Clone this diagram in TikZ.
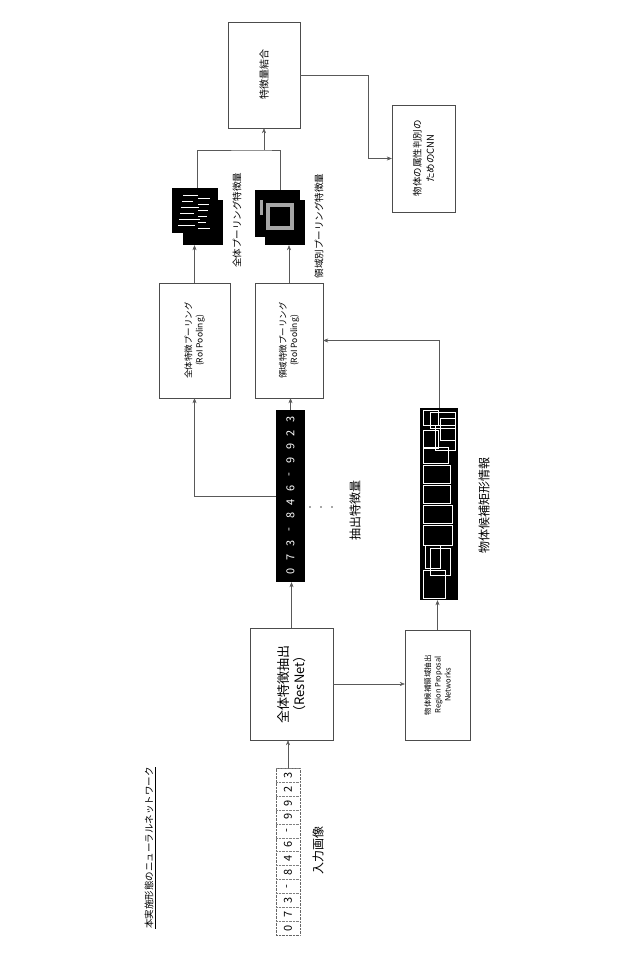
\documentclass[tikz,border=0pt]{standalone}
\usepackage{fontspec}
\setmainfont{Noto Sans CJK JP}
\usetikzlibrary{arrows.meta}
\begin{document}
\begin{tikzpicture}[x=1pt,y=-1pt,font=\fontsize{8.5}{11}\selectfont,
  box/.style={draw=black!70,thin,inner sep=0pt},
  arr/.style={draw=black!65,thin,-{Stealth[length=5pt,width=4pt]}},
  line/.style={draw=black!65,thin},
  vtext/.style={rotate=90,align=center}]
\useasboundingbox (0,0) rectangle (640,960);
% boxes
\node[box,minimum width=83,minimum height=112] (resnet) at (291.5,684) {};
\node[vtext,font=\fontsize{13}{16}\selectfont] at (resnet) {全体特徴抽出\\（ResNet）};
\node[box,minimum width=65,minimum height=110] (rpn) at (437.5,685) {};
\node[vtext,font=\fontsize{7.5}{10}\selectfont] at (rpn) {物体候補領域抽出\\Region Proposal\\Networks};
\node[box,minimum width=71,minimum height=115] (poolall) at (194.5,340.5) {};
\node[vtext] at (poolall) {全体特徴プーリング\\(RoI Pooling)};
\node[box,minimum width=68,minimum height=115] (poolreg) at (289,340.5) {};
\node[vtext] at (poolreg) {領域特徴プーリング\\(RoI Pooling)};
\node[box,minimum width=72,minimum height=106] (comb) at (264,75) {};
\node[vtext,font=\fontsize{10}{12}\selectfont] at (comb) {特徴量結合};
\node[box,minimum width=63,minimum height=107] (cnn) at (423.5,158.5) {};
\node[vtext,font=\fontsize{9.5}{13}\selectfont] at (cnn) {物体の属性判別の\\ためのCNN};
% input image
\node[draw=black!60,densely dotted,minimum width=24,minimum height=167,inner sep=0pt] (input) at (288,851.5) {};
\foreach \c [count=\i] in {0,7,3,-,8,4,6,-,9,9,2,3} {
  \node[rotate=90,font=\fontsize{11}{11}\selectfont] at (288,{935-13.9*(\i-0.5)}) {\c};
  \draw[black!50,densely dotted] (276,{935-13.9*\i}) -- (300,{935-13.9*\i});
}
\node[vtext,font=\fontsize{12}{14}\selectfont] (inlabel) at (318,850) {入力画像};
% extracted features
\node[fill=black,minimum width=29,minimum height=172,inner sep=0pt] (feat) at (290.5,496) {};
\foreach \c [count=\i] in {0,7,3,-,8,4,6,-,9,9,2,3}
  \node[rotate=90,text=white,font=\fontsize{11}{11}\selectfont] at (290.5,{578-13.8*(\i-0.5)}) {\c};
\foreach \x in {310,321,332} \fill[black!70] (\x,507) circle (0.8);
\node[vtext,font=\fontsize{12}{14}\selectfont] (featlabel) at (355,510) {抽出特徴量};
% candidate rectangles
\node[fill=black,minimum width=38,minimum height=192,inner sep=0pt] (cand) at (439,504) {};
\foreach \xa/\ya/\xb/\yb in {423/570/445/598,425/545/440/568,430/548/450/575,423/525/452/545,
  423/505/452/523,423/485/450/503,423/465/450/483,423/447/448/463,435/425/455/450,
  423/430/438/448,430/412/455/428,440/418/455/440,423/410/438/425}
  \draw[white,thin] (\xa,\ya) rectangle (\xb,\yb);
\node[vtext,font=\fontsize{12}{14}\selectfont] (candlabel) at (484,505) {物体候補矩形情報};
% pooled feature maps
\node[minimum width=51,minimum height=57,inner sep=0pt] (mapall) at (197.5,216.5) {};
\fill[black] (183,200) rectangle (223,245);
\fill[black] (172,188) rectangle (218,233);
\foreach \y in {195,201,...,229}
  \draw[white,thin] ({177+mod(\y,7)},\y) -- ({190+mod(\y,11)},\y) (198,{\y+3}) -- ({210-mod(\y,5)},{\y+3});
\node[minimum width=50,minimum height=55,inner sep=0pt] (mapreg) at (280,217.5) {};
\fill[black] (265,200) rectangle (305,245);
\fill[black] (255,190) rectangle (300,237);
\draw[black!35,line width=4pt] (268,205) rectangle (292,228);
\draw[black!35,line width=3pt] (261,200) -- (261,215);
\node[vtext,font=\fontsize{9.5}{11}\selectfont] (alllabel) at (237,220) {全体プーリング特徴量};
\node[vtext,font=\fontsize{9.5}{11}\selectfont] (reglabel) at (319,226) {領域別プーリング特徴量};
% title
\node[vtext,font=\fontsize{9.5}{11}\selectfont] (title) at (150,848) {\underline{本実施形態のニューラルネットワーク}};
% connectors
\draw[arr] (input.north) -- (input.north |- resnet.south);
\draw[arr] (resnet.east) -- (resnet.east -| rpn.west);
\draw[arr] (resnet.north) -- (resnet.north |- feat.south);
\draw[arr] (rpn.north) -- (rpn.north |- cand.south);
\draw[arr] (feat.north) -- (feat.north |- poolreg.south);
\draw[arr] (feat.west) -| (poolall.south);
\draw[arr] (cand.north) |- (poolreg.east);
\draw[arr] (poolall.north) -- (poolall.north |- mapall.south);
\draw[arr] (poolreg.north) -- (poolreg.north |- mapreg.south);
\coordinate (join) at (264,150);
\draw[line] (mapall.north) |- (join) -| (mapreg.north);
\draw[arr] (join) -- (join |- comb.south);
\draw[arr] (comb.east) -- ++(68,0) |- (cnn.west);
\end{tikzpicture}
\end{document}
